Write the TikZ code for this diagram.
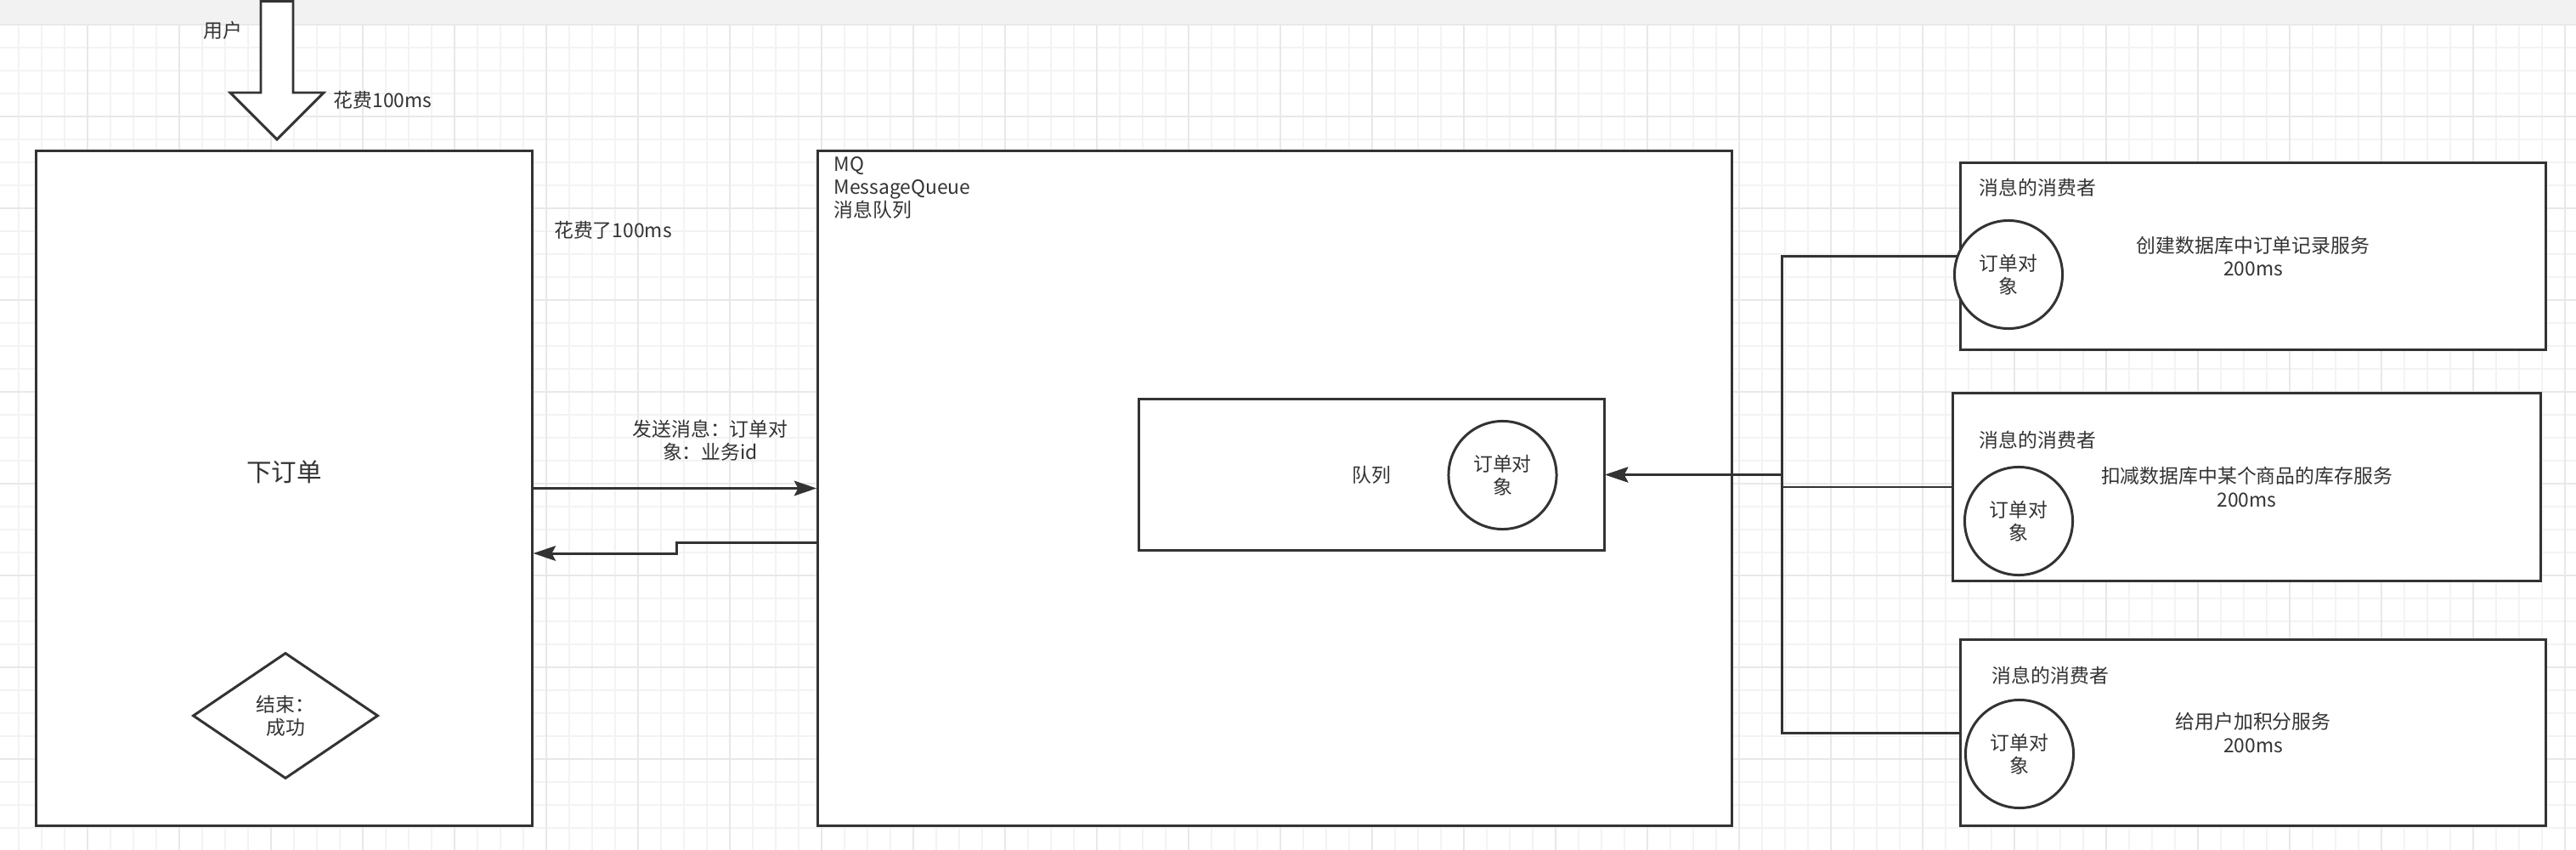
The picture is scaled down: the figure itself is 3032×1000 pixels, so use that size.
\documentclass[tikz,border=0pt]{standalone}
\usepackage{fontspec}
\setmainfont{Noto Sans CJK SC}
\usetikzlibrary{arrows.meta, positioning, shapes.geometric, calc}
\definecolor{inkgray}{RGB}{51,51,51}
\definecolor{bandgray}{RGB}{242,242,242}
\definecolor{gridminor}{RGB}{243,243,243}
\definecolor{gridmajor}{RGB}{232,232,232}
\newcommand{\flowtxt}{\fontsize{6.5}{7.7}\selectfont}
\newcommand{\titletxt}{\fontsize{8.4}{10}\selectfont}

\begin{document}
\begin{tikzpicture}[
    x=0.01cm, y=-0.01cm,
    box/.style={rectangle, draw=inkgray, fill=white, line width=0.85pt, inner sep=0, font=\flowtxt, text=inkgray, align=center},
    obj/.style={circle, draw=inkgray, fill=white, line width=0.85pt, minimum size=1.27cm, inner sep=0, font=\flowtxt, text=inkgray, align=center},
    txt/.style={inner sep=0, font=\flowtxt, text=inkgray, align=center},
    arr/.style={-{Stealth[length=7.5pt, width=5pt, inset=1.3pt]}, line width=0.85pt, inkgray}
  ]
  % canvas with grid
  \useasboundingbox (0,0) rectangle (3032,1000);
  \fill[white] (0,0) rectangle (3032,1000);
  \foreach \x in {22,49,...,3032} \draw[gridminor, line width=0.4pt] (\x,29) -- (\x,1000);
  \foreach \y in {56,83,...,1000} \draw[gridminor, line width=0.4pt] (0,\y) -- (3032,\y);
  \foreach \x in {103,211,...,3032} \draw[gridmajor, line width=0.5pt] (\x,29) -- (\x,1000);
  \foreach \y in {137,245,...,1000} \draw[gridmajor, line width=0.5pt] (0,\y) -- (3032,\y);
  \fill[bandgray] (0,0) rectangle (3032,29);
  \draw[gridmajor, line width=0.5pt] (0,29) -- (3032,29);

  % user
  \draw[inkgray, fill=white, line width=0.85pt] (307,1.5) -- (345,1.5) -- (345,109) -- (381,109) -- (326,164) -- (271,109) -- (307,109) -- cycle;
  \node[txt] (user) at (262,36) {用户};
  \node[txt, anchor=west] (costA) at (392,118) {花费100ms};

  % order service
  \node[box, minimum width=5.83cm, minimum height=7.93cm] (order) at (334.5,574.5) {};
  \node[txt, font=\titletxt] (orderlbl) at (334.5,555) {下订单};
  \node[box, diamond, minimum width=2.18cm, minimum height=1.48cm, aspect=1.47] (done) at (336,842) {结束：\\成功};
  \node[txt, anchor=west] (costB) at (651.5,271) {花费了100ms};

  % message queue
  \node[box, minimum width=10.75cm, minimum height=7.93cm] (mq) at (1500.5,574.5) {};
  \node[txt, anchor=north west, align=left] (mqlbl) at (981,184) {MQ\\MessageQueue\\消息队列};
  \node[box, minimum width=5.47cm, minimum height=1.77cm] (queue) at (1614.5,558.5) {队列};
  \node[obj] (qobj) at (1768.5,559) {订单对\\象};

  \draw[arr] (order.east) -- (mq.west);
  \node[txt] (sendlbl) at (836,518) {发送消息：订单对\\象：业务id};
  \draw[arr] ($(mq.west)+(0,63.5)$) -- ++(-165,0) |- ($(order.east)+(0,76.5)$);

  % consumers
  \node[box, minimum width=6.88cm, minimum height=2.19cm] (consA) at (2652,301.5) {创建数据库中订单记录服务\\200ms};
  \node[box, minimum width=6.91cm, minimum height=2.2cm] (consB) at (2644.5,573) {扣减数据库中某个商品的库存服务\\200ms};
  \node[box, minimum width=6.88cm, minimum height=2.18cm] (consC) at (2652,862) {给用户加积分服务\\200ms};
  \node[txt, anchor=west] (titleA) at (2329,221) {消息的消费者};
  \node[txt, anchor=west] (titleB) at (2329,518) {消息的消费者};
  \node[txt, anchor=west] (titleC) at (2344,795) {消息的消费者};

  \coordinate (hub) at (2097,558.5);
  \draw[arr] (consA.west) -| (hub) -- (queue.east);
  \draw[arr] (consB.west) -| (hub) -- (queue.east);
  \draw[arr] (consC.west) -| (hub) -- (queue.east);

  \node[obj] (objA) at (2364,323) {订单对\\象};
  \node[obj] (objB) at (2376,613) {订单对\\象};
  \node[obj] (objC) at (2377,887) {订单对\\象};
\end{tikzpicture}
\end{document}
